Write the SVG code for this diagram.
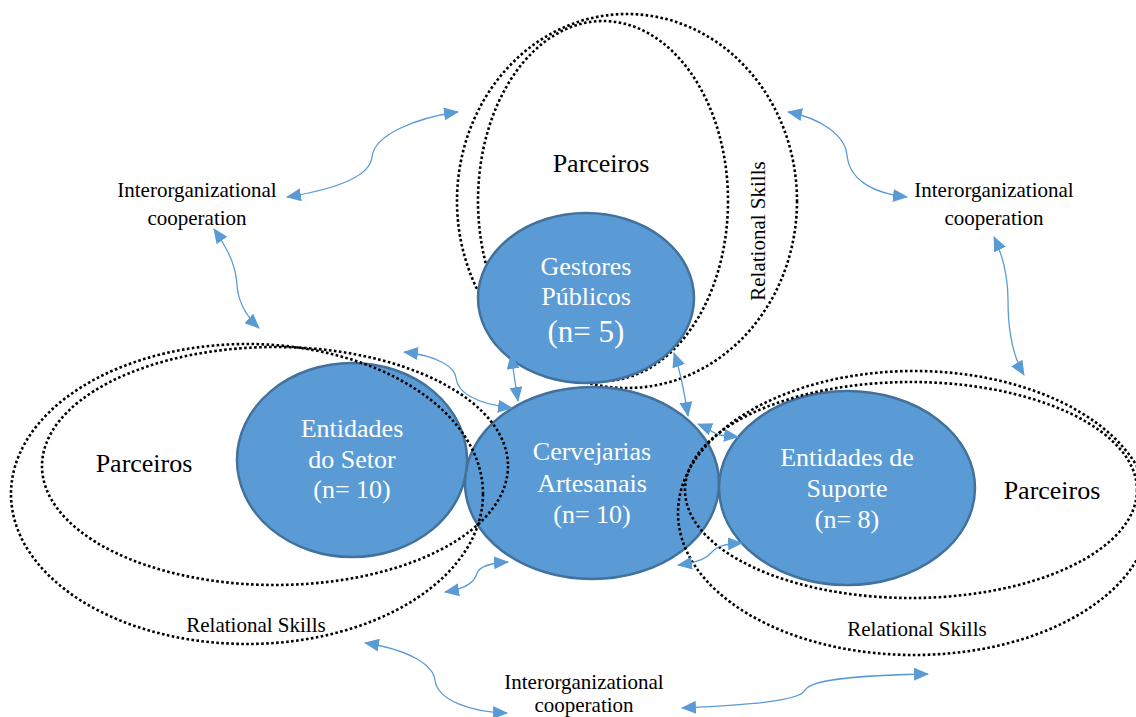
<svg xmlns="http://www.w3.org/2000/svg" width="1136" height="717" viewBox="0 0 1136 717">
<style>
.dot{fill:none;stroke:#000;stroke-width:2.6;stroke-dasharray:2.6 2.4}
.node{fill:#5B9BD5;stroke:#41719C;stroke-width:2.5}
.nt{font-family:"Liberation Serif","Times New Roman",serif;font-size:26px;fill:#fff;text-anchor:middle}
.lbl{font-family:"Liberation Serif","Times New Roman",serif;fill:#000;text-anchor:middle}
.p{font-size:26px}
.s{font-size:21px}
.arr{fill:none;stroke:#5B9BD5;stroke-width:1.3;marker-start:url(#ah);marker-end:url(#ah)}
</style>
<defs>
<marker id="ah" viewBox="0 0 15 13" refX="14" refY="6.5" markerWidth="15" markerHeight="13" markerUnits="userSpaceOnUse" orient="auto-start-reverse">
<path d="M0,0 L15,6.5 L0,13 z" fill="#5B9BD5"/>
</marker>
</defs>
<rect width="1136" height="717" fill="#fff"/>

<g id="top-partners">
<ellipse class="dot" cx="627" cy="201" rx="170" ry="187"/>
<ellipse class="dot" cx="603" cy="201" rx="125" ry="180"/>
<text class="lbl p" x="601" y="172">Parceiros</text>
<text class="lbl s" transform="translate(765,231) rotate(-90)">Relational Skills</text>
</g>

<g id="gestores">
<ellipse class="node" cx="586" cy="298" rx="108" ry="85"/>
<text class="nt" x="586" y="275">Gestores</text>
<text class="nt" x="586" y="305">Públicos</text>
<text class="nt" x="586" y="342" style="font-size:31px">(n= 5)</text>
</g>

<g id="cervejarias">
<ellipse class="node" cx="592" cy="483" rx="127" ry="96"/>
<text class="nt" x="592" y="460">Cervejarias</text>
<text class="nt" x="592" y="492">Artesanais</text>
<text class="nt" x="592" y="523">(n= 10)</text>
</g>

<g id="entidades-setor">
<ellipse class="node" cx="352" cy="460" rx="115" ry="97"/>
<text class="nt" x="352" y="437">Entidades</text>
<text class="nt" x="352" y="468">do Setor</text>
<text class="nt" x="352" y="498">(n= 10)</text>
</g>

<g id="entidades-suporte">
<ellipse class="node" cx="847" cy="488" rx="128" ry="97"/>
<text class="nt" x="847" y="466">Entidades de</text>
<text class="nt" x="847" y="497">Suporte</text>
<text class="nt" x="847" y="528">(n= 8)</text>
</g>

<g id="left-partners">
<ellipse class="dot" cx="247" cy="494" rx="236" ry="150"/>
<ellipse class="dot" cx="275" cy="466" rx="233" ry="119"/>
<text class="lbl p" x="144" y="472">Parceiros</text>
<text class="lbl s" x="256" y="632">Relational Skills</text>
</g>

<g id="right-partners">
<ellipse class="dot" cx="914" cy="513" rx="236" ry="142"/>
<ellipse class="dot" cx="911" cy="490" rx="226" ry="108"/>
<text class="lbl p" x="1052" y="499">Parceiros</text>
<text class="lbl s" x="917" y="636">Relational Skills</text>
</g>

<g id="coop-left">
<text class="lbl s" x="197" y="197">Interorganizational</text>
<text class="lbl s" x="197" y="225">cooperation</text>
</g>
<g id="coop-right">
<text class="lbl s" x="994" y="197">Interorganizational</text>
<text class="lbl s" x="994" y="225">cooperation</text>
</g>
<g id="coop-bottom">
<text class="lbl s" x="584" y="689">Interorganizational</text>
<text class="lbl s" x="584" y="712">cooperation</text>
</g>

<g id="connectors">
<path class="arr" d="M287,197 C330,190 370,178 372,157 C374,135 415,118 458,112"/>
<path class="arr" d="M214,229 C232,255 236,270 237,285 C238,300 245,315 259,328"/>
<path class="arr" d="M788,112 C820,118 845,135 847,155 C849,178 870,193 907,197"/>
<path class="arr" d="M994,237 C1005,260 1008,280 1008,300 C1008,330 1012,355 1024,375"/>
<path class="arr" d="M365,643 C410,650 433,665 435,680 C437,700 470,712 507,713"/>
<path class="arr" d="M682,708 C740,705 800,702 805,690 C812,678 870,675 928,674"/>
<path class="arr" d="M511,355 L518,401"/>
<path class="arr" d="M674,353 C680,370 684,390 688,416"/>
<path class="arr" d="M404,352 C440,356 455,368 456,378 C458,395 480,404 512,408"/>
<path class="arr" d="M445,592 C470,588 475,580 477,573 C480,566 490,563 508,562"/>
<path class="arr" d="M698,424 C708,428 714,434 720,435 C726,436 730,436 738,437"/>
<path class="arr" d="M678,565 C700,562 707,558 712,552 C717,546 725,544 742,543"/>
</g>
</svg>
